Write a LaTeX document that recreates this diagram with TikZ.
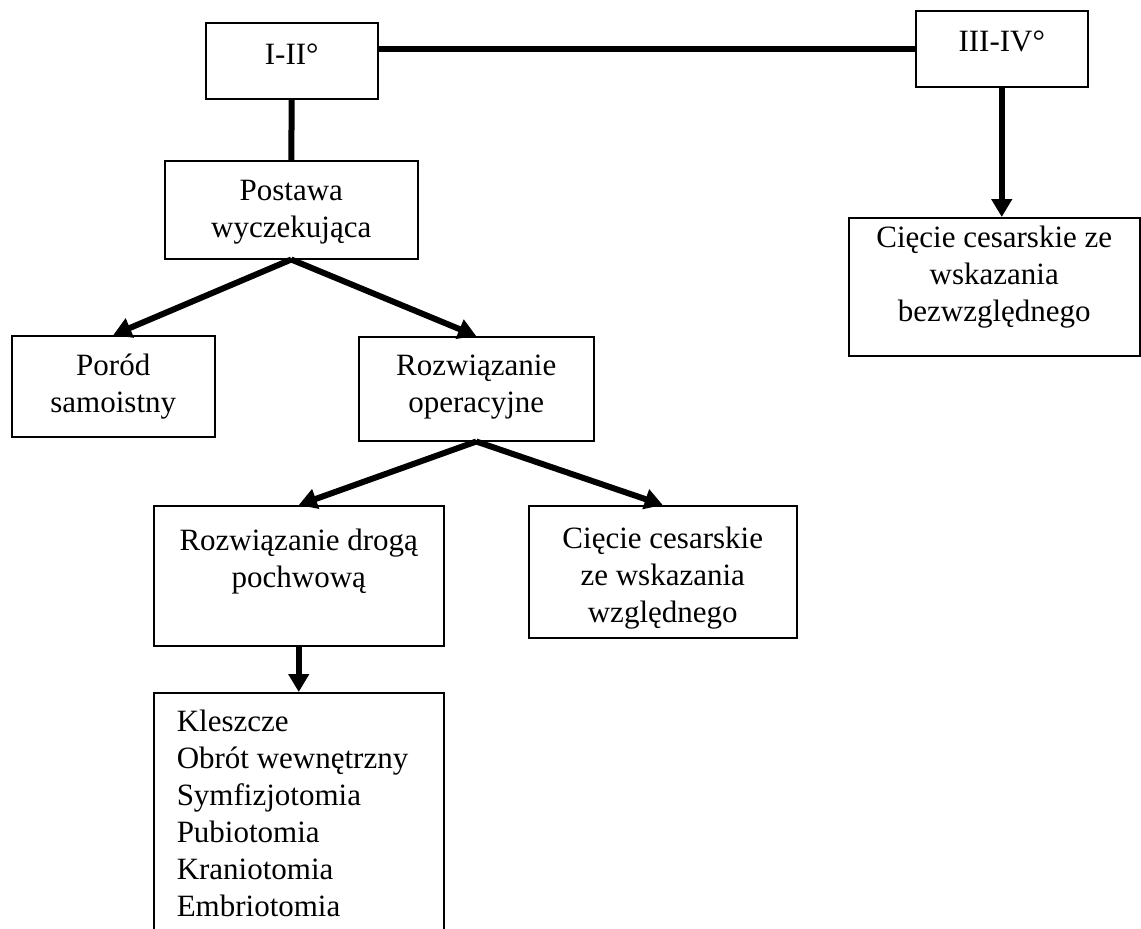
\documentclass[tikz,border=0pt]{standalone}
\usepackage{fontspec}
\setmainfont{Liberation Serif}
\usetikzlibrary{arrows.meta}

% text block inside a box: [alignment]{width}{height}{top gap}{text}
\newcommand{\boxtxt}[5][\centering]{\parbox[c][#3][t]{#2}{\vspace*{#4}#1\strut #5}}

\begin{document}
\begin{tikzpicture}[x=0.5pt, y=-0.5pt]
\tikzstyle{blk} = [draw, line width=0.75pt, inner sep=0pt, anchor=north west, font=\fontsize{15.5}{18.5}\selectfont];
\tikzstyle{lnk} = [line width=3pt];
\tikzstyle{arr} = [lnk, -{Triangle[length=9pt, width=10pt]}];

\useasboundingbox (0, 0) rectangle (1141, 928);

\node[blk] (deg12) at (205, 22) {\boxtxt{86pt}{38pt}{8pt}{I-II°}};
\node[blk] (deg34) at (915, 10) {\boxtxt{86pt}{38pt}{7.5pt}{III-IV°}};
\node[blk] (wait) at (164, 160) {\boxtxt{126.5pt}{49pt}{7pt}{Postawa\\wyczekująca}};
\node[blk] (birth) at (11, 335) {\boxtxt{101.5pt}{50.5pt}{7pt}{Poród\\samoistny}};
\node[blk] (oper) at (358, 336) {\boxtxt{117.5pt}{52pt}{6.5pt}{Rozwiązanie\\operacyjne}};
\node[blk] (vag) at (153, 505) {\boxtxt{145pt}{70pt}{9.5pt}{Rozwiązanie drogą\\pochwową}};
\node[blk] (csrel) at (528, 505) {\boxtxt{134pt}{66pt}{8.5pt}{Cięcie cesarskie\\ze wskazania\\względnego}};
\node[blk] (csabs) at (848, 217) {\boxtxt{145.5pt}{69pt}{2pt}{Cięcie cesarskie ze\\wskazania\\bezwzględnego}};
\node[blk] (ops) at (153, 692) {\boxtxt[\raggedright\leftskip=11.5pt]{145pt}{130pt}{6.5pt}{Kleszcze\\Obrót wewnętrzny\\Symfizjotomia\\Pubiotomia\\Kraniotomia\\Embriotomia}};

\draw[lnk] (deg12.east |- deg34) -- (deg34.west);
\draw[lnk] (deg12.south) -- (wait.north);
\draw[arr] (deg34.south) -- (deg34.south |- csabs.north);
\draw[arr] (wait.south) -- (birth.north);
\draw[arr] (wait.south) -- (oper.north);
\draw[arr] (oper.south) -- (vag.north);
\draw[arr] (oper.south) -- (csrel.north);
\draw[arr] (vag.south) -- (ops.north);
\end{tikzpicture}
\end{document}
